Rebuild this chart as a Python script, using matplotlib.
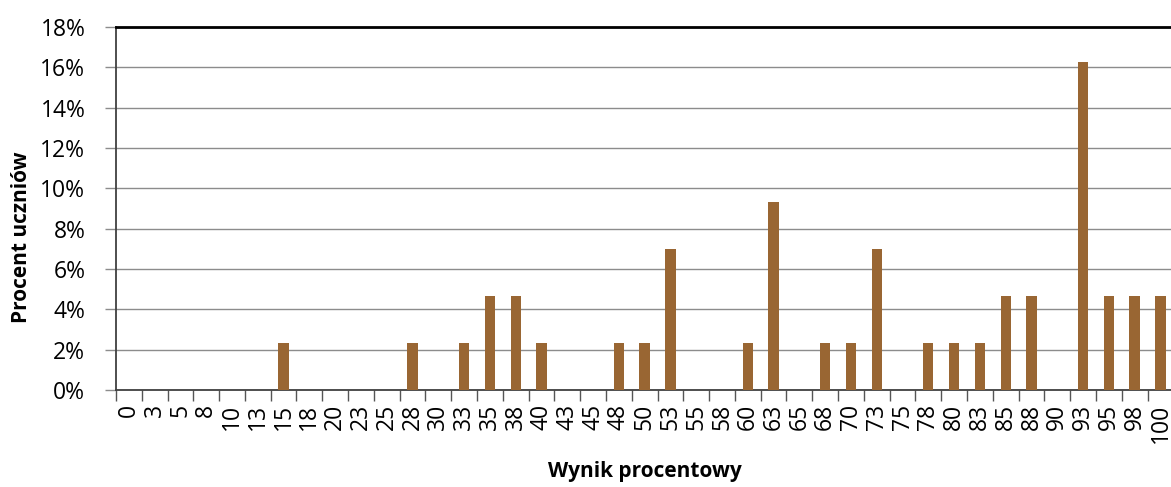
import numpy as np
import matplotlib
matplotlib.use("Agg")
import matplotlib.pyplot as plt
from matplotlib.ticker import FuncFormatter, FixedLocator

plt.rcParams['font.family'] = ['Open Sans', 'DejaVu Sans']

# Score categories (percent result) and share of students in each
scores = ['0', '3', '5', '8', '10', '13', '15', '18', '20', '23', '25', '28', '30',
          '33', '35', '38', '40', '43', '45', '48', '50', '53', '55', '58', '60',
          '63', '65', '68', '70', '73', '75', '78', '80', '83', '85', '88', '90',
          '93', '95', '98', '100']
percent = [0, 0, 0, 0, 0, 0, 2.33, 0, 0, 0, 0, 2.33, 0,
           2.33, 4.65, 4.65, 2.33, 0, 0, 2.33, 2.33, 6.98, 0, 0, 2.33,
           9.30, 0, 2.33, 2.33, 6.98, 0, 2.33, 2.33, 2.33, 4.65, 4.65, 0,
           16.28, 4.65, 4.65, 4.65]
y_ticks = [0, 2, 4, 6, 8, 10, 12, 14, 16, 18]

bar_color = '#996633'

fig = plt.figure(figsize=(11.71, 4.87), dpi=100)
ax = fig.add_axes([0.099, 0.199, 0.903, 0.746])

x = np.arange(len(scores))
ax.bar(x, percent, width=0.4, color=bar_color, zorder=3)

ax.set_xlim(-0.5, len(scores) - 0.5)
ax.set_ylim(0, 18)

# horizontal gridlines
ax.set_yticks(y_ticks)
ax.yaxis.set_major_formatter(FuncFormatter(lambda v, p: f"{int(v)}%"))
ax.grid(axis='y', color='#8c8c8c', linewidth=1.0, zorder=1)

# category labels centred, tick marks at category boundaries
ax.set_xticks(x)
ax.set_xticklabels(scores, rotation=90, fontsize=16.5)
ax.xaxis.set_minor_locator(FixedLocator(np.arange(-0.5, len(scores), 1.0)))
ax.tick_params(axis='x', which='major', length=0, pad=10)
ax.tick_params(axis='x', which='minor', length=8, width=1, color='#555555')
ax.tick_params(axis='y', length=8, width=1, color='#8c8c8c', labelsize=16.5, pad=14)

for side in ['left', 'bottom']:
    ax.spines[side].set_color('#404040')
    ax.spines[side].set_linewidth(1.3)
ax.spines['top'].set_color('black')
ax.spines['top'].set_linewidth(2)
ax.spines['right'].set_visible(False)

ax.set_ylabel('Procent uczniów', fontsize=15, fontweight='bold')
ax.yaxis.set_label_coords(-0.079, 0.42)
ax.set_xlabel('Wynik procentowy', fontsize=15, fontweight='bold')
ax.xaxis.set_label_coords(0.5, -0.195)

fig.savefig('out.png', dpi=100)
